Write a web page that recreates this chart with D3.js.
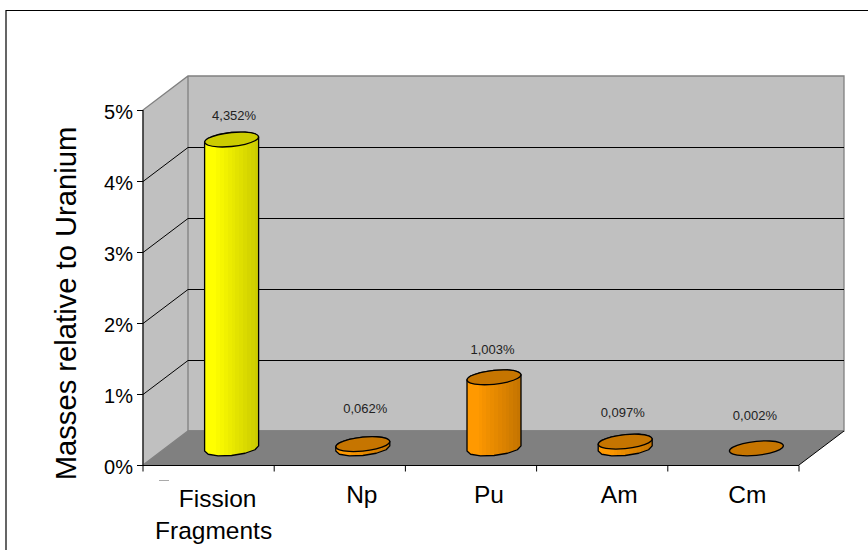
<!DOCTYPE html>
<html>
<head>
<meta charset="utf-8">
<script src="https://cdn.jsdelivr.net/npm/d3@7"></script>
<style>
  html, body { margin: 0; padding: 0; background: #fff; }
  svg { display: block; font-family: "Liberation Sans", Arial, sans-serif; }
  .domain { display: none; }
</style>
</head>
<body>
<div id="chart"></div>
<script>
const categories = ["Fission Fragments", "Np", "Pu", "Am", "Cm"];
const values = [4.352, 0.062, 1.003, 0.097, 0.002];
const valueLabels = ["4,352%", "0,062%", "1,003%", "0,097%", "0,002%"];
const yTicks = [0, 1, 2, 3, 4, 5];
const barColors = ["#ffff00", "#ff9900", "#ff9900", "#ff9900", "#ff9900"];
const capColors = ["#cccc00", "#c67500", "#c67500", "#c67500", "#c67500"];

const width = 868, height = 550;

// front edge of the floor, the back wall is shifted by depth
const front = {left: 143, right: 799, top: 110, bottom: 465};
const depth = {x: 45, y: -34};

const svg = d3.select("#chart").append("svg")
    .attr("width", width)
    .attr("height", height);

const xScale = d3.scaleBand().domain(categories).range([front.left, front.right]);
const yScale = d3.scaleLinear().domain([0, 5]).range([front.bottom, front.top]);

// outer frame, only top and left are inside the picture
svg.append("path")
    .attr("d", "M6,552V10.5H868")
    .attr("fill", "none")
    .attr("stroke", "#000")
    .attr("stroke-width", 1.2);

const bl = [front.left, front.bottom];
const tl = [front.left, front.top];
const blBack = [front.left + depth.x, front.bottom + depth.y];
const tlBack = [front.left + depth.x, front.top + depth.y];
const brBack = [front.right + depth.x, front.bottom + depth.y];
const trBack = [front.right + depth.x, front.top + depth.y];
const brFront = [front.right, front.bottom];
const line = d3.line();

// walls and floor
svg.append("path").attr("d", line([bl, tl, tlBack, blBack]) + "Z").attr("fill", "#c0c0c0");
svg.append("path").attr("d", line([blBack, tlBack, trBack, brBack]) + "Z").attr("fill", "#c0c0c0");
svg.append("path").attr("d", line([bl, blBack, brBack, brFront]) + "Z").attr("fill", "#808080");

// grey outline of the back wall
svg.append("path")
    .attr("d", line([bl, tl, tlBack, trBack, brBack, blBack, tlBack]))
    .attr("fill", "none").attr("stroke", "#808080").attr("stroke-width", 1.3);
svg.append("path")
    .attr("d", line([bl, blBack, brBack]))
    .attr("fill", "none").attr("stroke", "#808080").attr("stroke-width", 1.3);

// grid lines go along the side wall and then the back wall
yTicks.slice(1, 5).forEach(t => {
    const y = yScale(t) + 0.5;
    svg.append("path")
        .attr("d", line([[front.left, y], [front.left + depth.x, y + depth.y], [front.right + depth.x, y + depth.y]]))
        .attr("fill", "none").attr("stroke", "#000").attr("stroke-width", 1);
});

// right edge of the floor
svg.append("path")
    .attr("d", line([brFront, brBack]))
    .attr("fill", "none").attr("stroke", "#000").attr("stroke-width", 1);

// axes
const xAxis = svg.append("g")
    .attr("transform", `translate(0,${front.bottom + 0.5})`)
    .call(d3.axisBottom(xScale).tickValues([]).tickSizeOuter(0));
xAxis.append("line").attr("x1", front.left).attr("x2", front.right).attr("stroke", "#000");
categories.concat("end").forEach((c, i) => {
    const x = front.left + i * xScale.bandwidth();
    xAxis.append("line").attr("x1", x).attr("x2", x).attr("y1", 0).attr("y2", 6).attr("stroke", "#000");
});

const yAxis = svg.append("g")
    .attr("transform", `translate(${front.left},0)`)
    .call(d3.axisLeft(yScale).tickValues(yTicks).tickSize(6).tickPadding(4).tickFormat(d => d + "%"));
yAxis.selectAll("text").attr("font-size", 20).attr("font-family", "Liberation Sans").attr("fill", "#000").attr("dy", "0.4em");
yAxis.selectAll("line").attr("stroke", "#000");
yAxis.append("line").attr("y1", front.top).attr("y2", front.bottom).attr("stroke", "#000");

// cylinder outline as the low-poly ellipse the old chart renderer used
const rx = 27, ry = 7, tilt = 2.6;
const ringAngles = d3.range(0, 360, 30).map(a => a * Math.PI / 180);
function ring(cx, cy) {
    return ringAngles.map(a => [
        cx + rx * Math.cos(a),
        cy + ry * Math.sin(a) - tilt * Math.cos(a)
    ]);
}
const smooth = d3.line().curve(d3.curveCatmullRomClosed.alpha(0.1));

// side shading, narrow facets getting darker to the right
const defs = svg.append("defs");
const facets = 14;
barColors.forEach((c, i) => {
    const grad = defs.append("linearGradient").attr("id", "side" + i);
    d3.range(facets).forEach(k => {
        const col = d3.interpolateRgb(c, capColors[i])(k < 3 ? 0 : (k - 2) / (facets - 3));
        grad.append("stop").attr("offset", k / facets).attr("stop-color", col);
        grad.append("stop").attr("offset", (k + 1) / facets).attr("stop-color", col);
    });
});

const barGroup = svg.selectAll("g.bar").data(categories).join("g").attr("class", "bar");
barGroup.each(function(c, i) {
    const g = d3.select(this);
    const cx = xScale(c) + xScale.bandwidth() / 2 + depth.x / 2 + 0.5;
    const yBase = yScale(0) + depth.y / 2 + 0.5;
    const yTop = yScale(values[i]) + depth.y / 2 + 0.5;
    const bottomRing = ring(cx, yBase), topRing = ring(cx, yTop);

    // silhouette: front half of the bottom ring plus the back half of the top ring
    const lower = bottomRing.slice(0, 7);
    const upper = topRing.slice(6).concat([topRing[0]]);
    if (yBase - yTop > 1) {
        g.append("path")
            .attr("d", d3.line().curve(d3.curveLinear)(lower.concat(upper)) + "Z")
            .attr("fill", `url(#side${i})`)
            .attr("stroke", "#000").attr("stroke-width", 1.3).attr("stroke-linejoin", "round");
    }
    g.append("path")
        .attr("d", smooth(topRing))
        .attr("fill", capColors[i])
        .attr("stroke", "#000").attr("stroke-width", 1.3);
});

// data labels, each one was nudged by hand in the original
const labelLift = [23, 35, 27, 28, 32];
const labelShift = [3, 3, -1, -2, -1];
svg.selectAll("text.value").data(categories).join("text")
    .attr("class", "value")
    .attr("x", (c, i) => xScale(c) + xScale.bandwidth() / 2 + depth.x / 2 + labelShift[i])
    .attr("y", (c, i) => yScale(values[i]) + depth.y / 2 - labelLift[i] + 4)
    .attr("text-anchor", "middle")
    .attr("font-size", 13)
    .attr("fill", "#222")
    .text((c, i) => valueLabels[i]);

// category labels sit off centre in the original
const catShift = [[9, 5], [22], [18], [17], [14]];
const labelLines = categories.map(c => c.split(" "));
svg.selectAll("text.cat").data(categories).join("text")
    .attr("class", "cat")
    .attr("text-anchor", "middle")
    .attr("font-size", 24.5)
    .attr("fill", "#000")
    .each(function(c, i) {
        const two = labelLines[i].length > 1;
        labelLines[i].forEach((t, k) => {
            d3.select(this).append("tspan")
                .attr("x", xScale(c) + xScale.bandwidth() / 2 + catShift[i][k])
                .attr("y", (two ? 507 : 503) + k * 32)
                .text(t);
        });
    });

// small stray dash under the first label
svg.append("line")
    .attr("x1", front.left + 16).attr("x2", front.left + 26)
    .attr("y1", 480.5).attr("y2", 480.5)
    .attr("stroke", "#aaa");

// y title
svg.append("text")
    .attr("transform", `translate(76,${(front.top + front.bottom) / 2 + 16}) rotate(-90)`)
    .attr("text-anchor", "middle")
    .attr("font-size", 29.2)
    .attr("fill", "#000")
    .text("Masses relative to Uranium");
</script>
</body>
</html>
